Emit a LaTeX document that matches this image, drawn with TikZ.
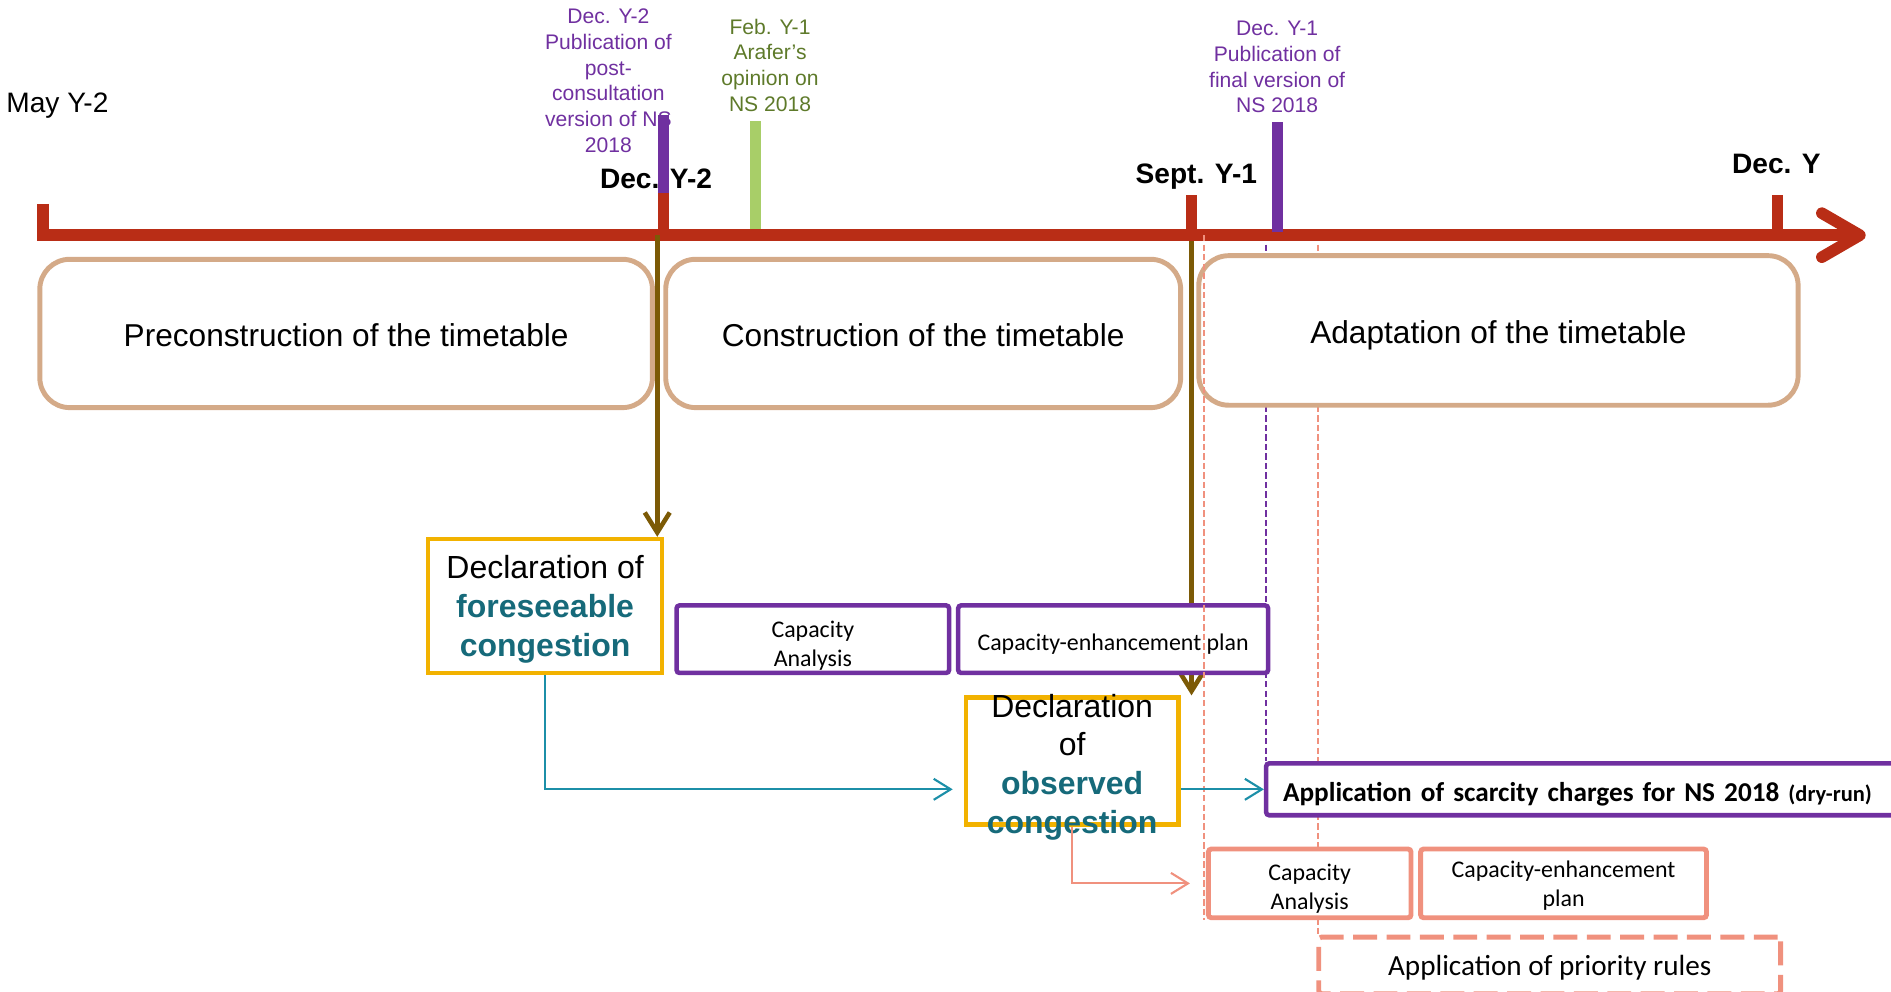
\documentclass[tikz,border=0pt]{standalone}
\usepackage{fontspec}
\setmainfont{Liberation Sans}
\newfontfamily\calib{Carlito}
\usetikzlibrary{arrows.meta,backgrounds}

\definecolor{axisred}{RGB}{185,45,22}
\definecolor{pubpurple}{RGB}{112,48,160}
\definecolor{optgreen}{RGB}{168,206,104}
\definecolor{opttext}{RGB}{94,122,42}
\definecolor{phasetan}{RGB}{212,170,136}
\definecolor{arrbrown}{RGB}{124,90,6}
\definecolor{declorange}{RGB}{242,178,0}
\definecolor{congteal}{RGB}{22,106,122}
\definecolor{linkteal}{RGB}{28,143,168}
\definecolor{adjsalmon}{RGB}{240,145,126}

\newcommand{\congword}[1]{\textcolor{congteal}{\bfseries #1}}

\tikzset{
	phase/.style={draw=phasetan, line width=1.4pt, rounded corners=3mm, fill=white, inner sep=0pt, text height=7.4pt, text depth=0pt, font=\fontsize{9}{11}\selectfont},
	declbox/.style={draw=declorange, line width=1.3pt, fill=white, align=center, inner sep=0pt, text depth=0pt, font=\fontsize{9.1}{11}\selectfont},
	workbox/.style={draw=pubpurple, line width=1.3pt, rounded corners=0.3mm, fill=white, align=center, inner sep=0pt, text depth=0pt, font=\calib\fontsize{6.8}{8.2}\selectfont},
	obsbox/.style={workbox, draw=adjsalmon, line width=1.4pt},
	pubtext/.style={text=pubpurple, align=center, inner sep=0pt, anchor=north, font=\fontsize{6}{7.3}\selectfont},
	datelab/.style={inner sep=0pt, anchor=base, font=\bfseries\fontsize{8}{9.6}\selectfont},
	axisline/.style={draw=axisred, line width=3.3pt},
	bar/.style={line width=3.2pt},
	brownarr/.style={draw=arrbrown, line width=1.3pt, -{Straight Barb[length=2mm,width=2.5mm]}},
	linkarr/.style={draw=linkteal, line width=0.6pt, -{Straight Barb[length=1.7mm,width=2.1mm]}},
	salarr/.style={linkarr, draw=adjsalmon},
	guide/.style={line width=0.55pt, dash pattern=on 1.8pt off 0.9pt}
}

\begin{document}
\begin{tikzpicture}[x=0.1206mm, y=-0.1206mm]
		\newcommand{\pxl}{0.1206mm}
		\newcommand{\axisy}{195}

		\useasboundingbox (0,0) rectangle (1568,822);
		\clip (0,0) rectangle (1568,822);

		% phases
		\node[phase, minimum width=508*\pxl, minimum height=123*\pxl] (precons) at (287,276.5) {Preconstruction of the timetable};
		\node[phase, minimum width=427*\pxl, minimum height=123*\pxl] (cons) at (765.5,276.5) {Construction of the timetable};
		\node[phase, minimum width=497*\pxl, minimum height=124*\pxl] (adapt) at (1242.5,274) {Adaptation of the timetable};

		% timeline
		\draw[axisline, -{Straight Barb[length=3.8mm,width=4.4mm,round]}] (35.5,169) -- (35.5,\axisy) -- (1547,\axisy);
		\coordinate (decY2) at (545,\axisy);
		\coordinate (septY1) at (988,\axisy);
		\coordinate (adaptstart) at (998.5,\axisy);
		\coordinate (finalpub) at (1050,\axisy);
		\coordinate (prio) at (1093,\axisy);

		% dates
		\node[datelab, font=\fontsize{8}{9.6}\selectfont] (lblmay) at (47.6,93) {May Y-2};
		\node[datelab] (lbldecA) at (544,156) {Dec. Y-2};
		\node[datelab] (lblsept) at (992,152) {Sept. Y-1};
		\node[datelab] (lbldecB) at (1473,144) {Dec. Y};

		% publications
		\node[pubtext] (pubA) at (504.5,7) {Dec. Y-2\\Publication of\\post-\\consultation\\version of NS\\2018};
		\node[pubtext, text=opttext] (opinion) at (638.5,15) {Feb. Y-1\\Arafer’s\\opinion on\\NS 2018};
		\node[pubtext] (pubB) at (1059,17) {Dec. Y-1\\Publication of\\final version of\\NS 2018};

		% ticks
		\draw[bar, axisred] (550,\axisy) -- (550,160);
		\draw[bar, pubpurple] (550,160) -- (550,95);
		\draw[bar, optgreen] (626.5,190) -- (626.5,100);
		\draw[bar, axisred] (988,\axisy) -- (988,162);
		\draw[bar, pubpurple] (1059,192) -- (1059,101);
		\draw[bar, axisred] (1474,\axisy) -- (1474,162);

		% declarations and studies
		\node[declbox, minimum width=194*\pxl, minimum height=111*\pxl] (foresee) at (452,502.5) {Declaration of\\\congword{foreseeable}\\\congword{congestion}};
		\node[workbox, text height=15.6pt, minimum width=226*\pxl, minimum height=56*\pxl] (capA) at (674,530) {Capacity\\Analysis};
		\node[workbox, text height=6.4pt, minimum width=257*\pxl, minimum height=56*\pxl] (capP) at (923,530) {Capacity-enhancement plan};
		\node[declbox, minimum width=176*\pxl, minimum height=105*\pxl] (observed) at (889,631) {};
		\node[align=center, inner sep=0pt, font=\fontsize{9.1}{11}\selectfont] (observedtxt) at (889,636) {Declaration\\of\\\congword{observed}\\\congword{congestion}};
		\node[workbox, anchor=west, align=left, text width=7cm, text height=7.2pt, inner xsep=14*\pxl, minimum height=43*\pxl, font=\calib\bfseries\fontsize{7.75}{9.3}\selectfont] (scarcity) at (1048,654.5) {Application of scarcity charges for NS 2018 {\fontsize{6.4}{8}\selectfont (dry-run)}};
		\node[obsbox, text height=14.8pt, minimum width=168*\pxl, minimum height=57*\pxl] (salcapA) at (1086,732.5) {Capacity\\Analysis};
		\node[obsbox, minimum width=237*\pxl, minimum height=57*\pxl] (salcapP) at (1296.5,732.5) {Capacity-enhancement\\plan};
		\node[obsbox, dash pattern=on 6.8pt off 2.7pt, minimum width=383*\pxl, minimum height=47*\pxl, font=\calib\fontsize{8.3}{10}\selectfont] (priority) at (1285,800.5) {Application of priority rules};

		% arrows
		\draw[brownarr] (decY2) -- (decY2 |- foresee.north);
		\draw[guide, adjsalmon] (adaptstart) -- (adaptstart |- salcapA.south);
		\draw[linkarr, shorten >=1.1mm] (foresee.south) |- (observed.west |- scarcity.west);
		\draw[linkarr] (observed.east |- scarcity.west) -- (scarcity.west);
		\draw[salarr, shorten >=1.6mm] (observed.south) |- (salcapA.west);

		% behind the boxes
		\begin{scope}[on background layer]
			\draw[brownarr] (septY1) -- (septY1 |- observed.north);
			\draw[guide, pubpurple] (finalpub) -- (finalpub |- scarcity.north);
			\draw[guide, adjsalmon] (prio) -- (prio |- priority.north);
		\end{scope}

\end{tikzpicture}
\end{document}
